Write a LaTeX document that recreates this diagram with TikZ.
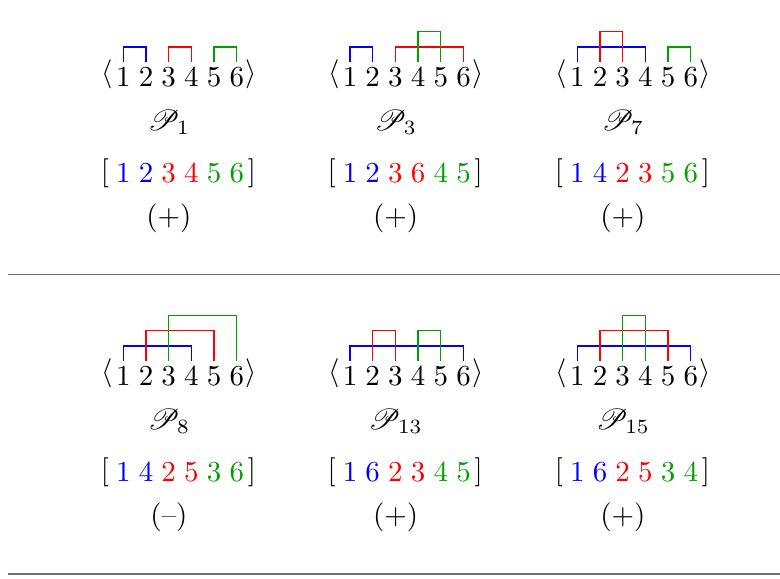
\documentclass[tikz,border=0pt]{standalone}
\usepackage{mathrsfs}
\definecolor{mygreen}{RGB}{0,160,0}
\definecolor{rulegray}{RGB}{110,110,110}
\tikzset{
  dig/.style={inner sep=0pt, anchor=center},
  lbl/.style={inner sep=0pt, anchor=base},
  link/.style={line width=0.45pt},
  seprule/.style={rulegray, line width=0.6pt},
}
\newcommand{\mypanel}[7]{%
  \begin{scope}[shift={(#2,#3)}]
    \node[dig] (#1-l) at (107.5,74.5) {$\langle$};
    \foreach \d in {1,...,6}
      \node[dig] (#1-d\d) at ({123.3+22.7*(\d-1)},77) {$\d$};
    \node[dig] (#1-r) at (251,74.5) {$\rangle$};
    \node[lbl] (#1-p) at (169,130.5) {$\mathscr{P}_{#4}$};
    \node[dig] (#1-ol) at (105,173) {$[$};
    \foreach \v/\cl [count=\k] in {#5}
      \node[dig,text=\cl] (#1-s\k) at ({123.3+22.7*(\k-1)},173) {$\v$};
    \node[dig] (#1-or) at (252,173) {$]$};
    \node[dig] (#1-sg) at (169,218) {#6};
    \foreach \i/\j/\l/\cl in {#7}
      \draw[link,\cl] ([yshift=1.7pt]#1-d\i.north) -- ++(0,{-15.2*\l}) -| ([yshift=1.7pt]#1-d\j.north);
  \end{scope}}
\begin{document}
\begin{tikzpicture}[x=0.345pt,y=-0.345pt]
  \useasboundingbox (0,0) rectangle (780,579);
  \mypanel{a}{0}{0}{1}{1/blue,2/blue,3/red,4/red,5/mygreen,6/mygreen}{$(+)$}{1/2/1/blue,3/4/1/red,5/6/1/mygreen}
  \mypanel{b}{226.7}{0}{3}{1/blue,2/blue,3/red,6/red,4/mygreen,5/mygreen}{$(+)$}{1/2/1/blue,3/6/1/red,4/5/2/mygreen}
  \mypanel{c}{454}{0}{7}{1/blue,4/blue,2/red,3/red,5/mygreen,6/mygreen}{$(+)$}{1/4/1/blue,2/3/2/red,5/6/1/mygreen}
  \mypanel{d}{0}{299}{8}{1/blue,4/blue,2/red,5/red,3/mygreen,6/mygreen}{(--)}{1/4/1/blue,2/5/2/red,3/6/3/mygreen}
  \mypanel{e}{226.7}{299}{13}{1/blue,6/blue,2/red,3/red,4/mygreen,5/mygreen}{$(+)$}{1/6/1/blue,2/3/2/red,4/5/2/mygreen}
  \mypanel{f}{454}{299}{15}{1/blue,6/blue,2/red,5/red,3/mygreen,4/mygreen}{$(+)$}{1/6/1/blue,2/5/2/red,3/4/3/mygreen}
  \draw[seprule] (8,274.5) -- (780,274.5);
  \draw[seprule] (8,574) -- (780,574);
\end{tikzpicture}
\end{document}
